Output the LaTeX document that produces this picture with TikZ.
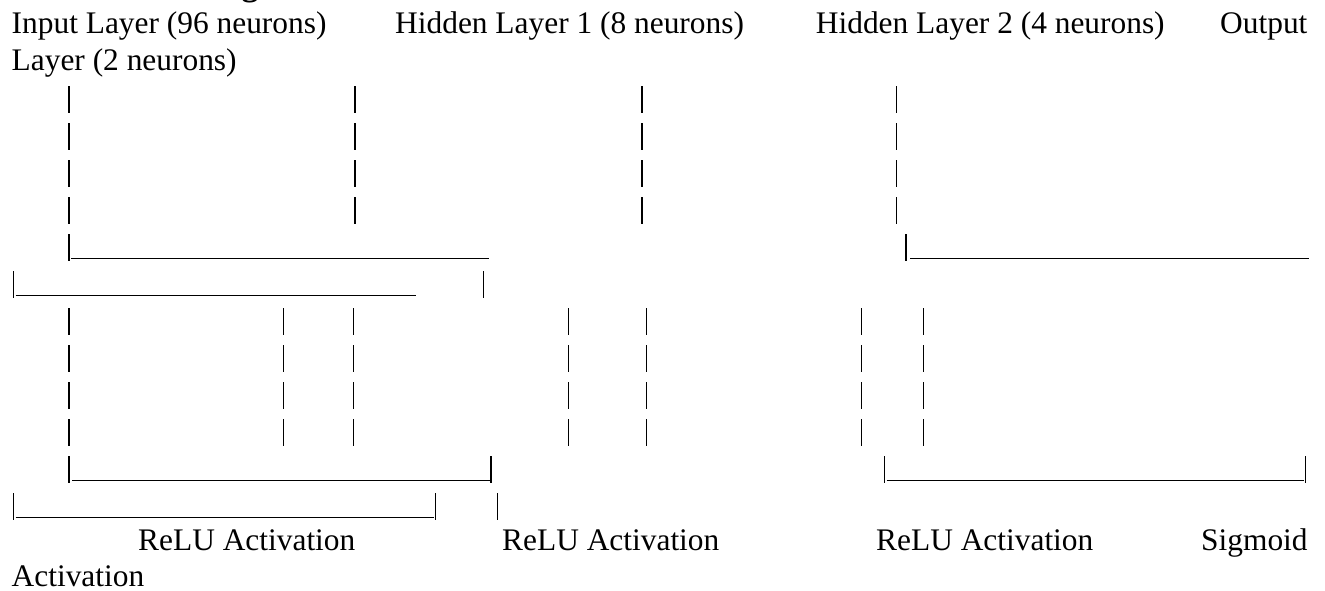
\documentclass[tikz,border=0pt]{standalone}
\usepackage{fontspec}
\setmainfont{Liberation Serif}
\usepackage{tikz}

\begin{document}
\begin{tikzpicture}[x=1pt, y=-1pt,
  bar/.style={draw=black, line width=1.2pt},
  rule/.style={draw=black, line width=1.7pt},
  every node/.style={anchor=base west, inner sep=0pt, font=\fontsize{31.4}{37}\selectfont}]
\useasboundingbox (0,0) rectangle (1325,590);

% heading line, cut by the page edge
\node[font=\fontsize{34}{36}\selectfont\bfseries] (title) at (241.5,-5) {g};

\begin{scope}
    \node (inl) at (11.5,33.3) {Input Layer (96 neurons)};
    \node (hida) at (395,33.3) {Hidden Layer 1 (8 neurons)};
    \node (hidb) at (815.7,33.3) {Hidden Layer 2 (4 neurons)};
    \node (outl) at (1220,33.3) {Output};
    \node (outm) at (11.5,70.3) {Layer (2 neurons)};
\end{scope}

% first block of bars
\foreach \r in {0,...,3}
  \foreach \x in {69,355,642,896.7}
    \path[bar] (\x,{86+37*\r}) -- ++(0,27);

\path[bar] (69,234) -- ++(0,27);
\path[rule] (71.4,258.5) -- (488.8,258.5);
\path[bar] (906,234) -- ++(0,27);
\path[rule] (910,258.5) -- (1308.6,258.5);

\path[bar] (13.4,271) -- ++(0,27);
\path[rule] (15.6,295.5) -- (416,295.5);
\path[bar] (483.5,271) -- ++(0,27);

% second block of bars
\foreach \r in {0,...,3}
  \foreach \x in {69,283.3,353.7,568.2,646.8,861.2,923.7}
    \path[bar] (\x,{308+37*\r}) -- ++(0,27);

\path[bar] (69,456) -- ++(0,27);
\path[rule] (72,480.5) -- (489.5,480.5);
\path[bar] (491,456) -- ++(0,27);
\path[bar] (884.6,456) -- ++(0,27);
\path[rule] (886.5,480.5) -- (1304.3,480.5);
\path[bar] (1305.6,456) -- ++(0,27);

\path[bar] (13.4,493) -- ++(0,27);
\path[rule] (15.6,517.5) -- (433.5,517.5);
\path[bar] (435.3,493) -- ++(0,27);
\path[bar] (497.8,493) -- ++(0,27);

\begin{scope}
    \node (acta) at (138,550.3) {ReLU Activation};
    \node (actb) at (502,550.3) {ReLU Activation};
    \node (actc) at (876,550.3) {ReLU Activation};
    \node (actd) at (1201,550.3) {Sigmoid};
    \node (acte) at (11.5,586.5) {Activation};
\end{scope}

\end{tikzpicture}
\end{document}
